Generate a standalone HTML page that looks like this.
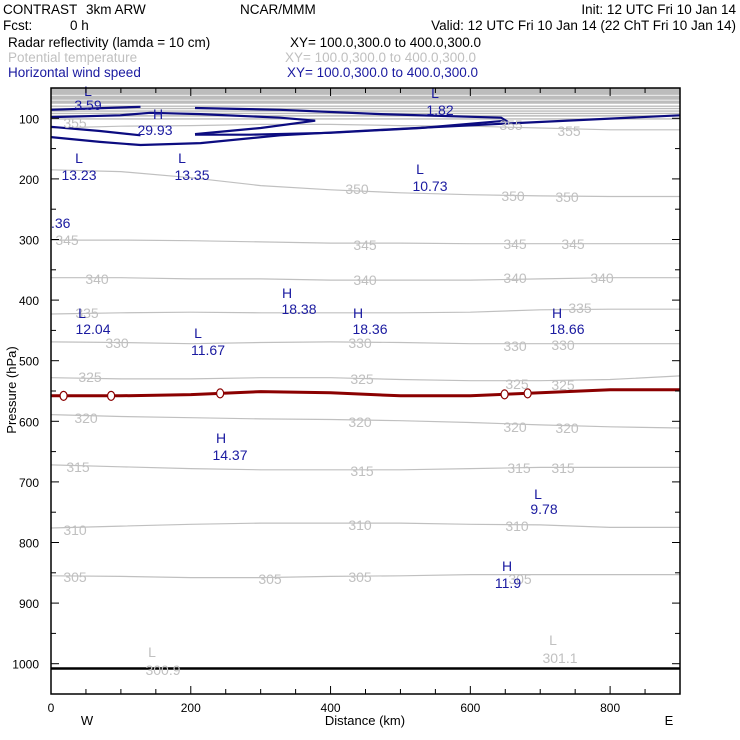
<!DOCTYPE html>
<html><head><meta charset="utf-8"><style>
body{margin:0;background:#fff;}
svg{display:block;font-family:"Liberation Sans",sans-serif;}
</style></head><body>
<svg id="c" width="740" height="740" viewBox="0 0 740 740">
<g font-size="13.5">
<text x="3" y="14">CONTRAST</text>
<text x="86" y="14">3km ARW</text>
<text x="240" y="14">NCAR/MMM</text>
<text x="736" y="14" text-anchor="end">Init: 12 UTC Fri 10 Jan 14</text>
<text x="3" y="30">Fcst:</text>
<text x="70" y="30">0 h</text>
<text x="736" y="30" text-anchor="end">Valid: 12 UTC Fri 10 Jan 14 (22 ChT Fri 10 Jan 14)</text>
<text x="8" y="47">Radar reflectivity (lamda = 10 cm)</text>
<text x="290" y="47">XY= 100.0,300.0 to 400.0,300.0</text>
<text x="8" y="62" fill="#c0c0c0">Potential temperature</text>
<text x="285" y="62" fill="#c0c0c0">XY= 100.0,300.0 to 400.0,300.0</text>
<text x="8" y="77" fill="#1a1aa0">Horizontal wind speed</text>
<text x="287" y="77" fill="#1a1aa0">XY= 100.0,300.0 to 400.0,300.0</text>
</g>
<g id="plot"></g>
</svg>
<script>
const xTicks=[0,200,400,600,800];
const pTicks=[100,200,300,400,500,600,700,800,900,1000];
const thetaKm=[0,100,200,300,400,500,600,700,800,900];
const thetaLevels=[355,350,345,340,335,330,325,320,315,310,305];
const theta355=[116,113,112,110,110,112,113,116,119,119];
const theta350=[185,188,198,211,218,223,226,228,229,229];
const theta345=[301,301,302,304,306,306,307,307,307,307];
const theta340=[363,363,365,365,367,367,367,365,363,363];
const theta335=[423,421,420,421,421,421,420,416,415,415];
const theta330=[469,470,472,470,469,470,472,472,472,472];
const theta325=[528,530,530,528,528,531,533,533,531,525];
const theta320=[589,592,594,596,597,599,602,606,609,611];
const theta315=[672,675,678,680,680,680,678,676,676,676];
const theta310=[776,773,770,768,768,768,770,771,775,775];
const theta305=[855,856,858,858,856,855,853,853,853,853];
const topThetaP=[80,84,88,92,96,101];
const redKm=[0,100,200,300,400,500,600,700,800,900];
const redP=[558,558,556,551,553,558,558,553,548,548];
const windAKm=[0,70,128,214,328,472,644,900];
const windAP=[131,139,144,141,128,119,109,95];
const windB1Km=[0,70,128];const windB1P=[114,121,128];
const windB2Km=[206,300,378,328,214,142,99,0];const windB2P=[126,116,104,99,93,91,95,98];
const windC1Km=[0,128];const windC1P=[86,81];
const windC2Km=[206,328,472,644,651,529,400,285,206];const windC2P=[83,86,93,99,104,116,124,127,127];
const surfaceP=1008;

const L=51,R=680,T=88,B=694;
const X=km=>L+km*(R-L)/900;
const Y=p=>T+(p-50)*(B-T)/1000;
const NS='http://www.w3.org/2000/svg';
const g=document.getElementById('plot');
function mk(tag,attrs,parent){const e=document.createElementNS(NS,tag);for(const k in attrs)e.setAttribute(k,attrs[k]);(parent||g).appendChild(e);return e;}
function path(kms,ps){return kms.map((k,i)=>(i?'L':'M')+X(k).toFixed(1)+','+Y(ps[i]).toFixed(1)).join(' ');}
const defs=mk('defs',{});const cp=mk('clipPath',{id:'pc'},defs);mk('rect',{x:L,y:T,width:R-L,height:B-T},cp);
const inner=mk('g',{'clip-path':'url(#pc)'});
let e=mk('rect',{x:L,y:T,width:R-L,height:Y(76)-T,fill:'#bcbcbc'},inner);


for(const tp of [62,70]){e=mk('line',{x1:L,x2:R,y1:Y(tp),y2:Y(tp),stroke:'#fff','stroke-width':0.8},inner);

}
topThetaP.forEach((tp,i)=>{e=mk('line',{x1:L,x2:R,y1:Y(tp),y2:Y(tp),stroke:'#bcbcbc','stroke-width':1.4},inner);

});
const thetas=[theta355,theta350,theta345,theta340,theta335,theta330,theta325,theta320,theta315,theta310,theta305];
thetas.forEach((arr,i)=>{e=mk('path',{d:path(thetaKm,arr),fill:'none',stroke:'#c0c0c0','stroke-width':1.2},inner);

});
[[windAKm,windAP],[windB1Km,windB1P],[windB2Km,windB2P],[windC1Km,windC1P],[windC2Km,windC2P]].forEach(([k,p],i)=>{
e=mk('path',{d:path(k,p),fill:'none',stroke:'#0c0c80','stroke-width':2.2},inner);

});
e=mk('path',{d:path(redKm,redP),fill:'none',stroke:'#8b0000','stroke-width':3},inner);


[18,86,242,649,682].forEach(k=>{const i=Math.min(8,Math.floor(k/100));const p=redP[i]+(redP[i+1]-redP[i])*(k-i*100)/100;
e=mk('ellipse',{cx:X(k),cy:Y(p),rx:3.5,ry:4.5,fill:'#fff',stroke:'#8b0000','stroke-width':1.2},inner);

});
e=mk('line',{x1:L,x2:R,y1:Y(surfaceP),y2:Y(surfaceP),stroke:'#000','stroke-width':2.5},inner);


const gl=[[75,128,'355'],[357,194,'350'],[513,201,'350'],[567,202,'350'],[67,245,'345'],[365,250,'345'],[515,249,'345'],[573,249,'345'],[97,284,'340'],[365,285,'340'],[515,283,'340'],[602,283,'340'],[87,318,'335'],[580,313,'335'],[117,348,'330'],[360,348,'330'],[515,351,'330'],[563,350,'330'],[90,382,'325'],[362,384,'325'],[517,389,'325'],[563,390,'325'],[86,423,'320'],[360,427,'320'],[515,432,'320'],[567,433,'320'],[78,472,'315'],[362,476,'315'],[519,473,'315'],[563,473,'315'],[75,535,'310'],[360,530,'310'],[517,531,'310'],[75,582,'305'],[270,584,'305'],[360,582,'305'],[520,584,'305'],[511,130,'355'],[569,136,'355'],[152,657,'L'],[163,675,'300.9'],[553,645,'L'],[560,663,'301.1']];
gl.forEach(([x,y,t])=>{e=mk('text',{x,y,'text-anchor':'middle',fill:'#c0c0c0','font-size':14},g);e.textContent=t;

});
const bl=[[88,96,'L'],[88,110,'3.59'],[158,119,'H'],[155,135,'29.93'],[435,98,'L'],[440,115,'1.82'],[79,163,'L'],[79,180,'13.23'],[182,163,'L'],[192,180,'13.35'],[420,174,'L'],[430,191,'10.73'],[63,228,'.36'],[287,298,'H'],[299,314,'18.38'],[358,318,'H'],[370,334,'18.36'],[557,318,'H'],[567,334,'18.66'],[82,318,'L'],[93,334,'12.04'],[198,338,'L'],[208,355,'11.67'],[221,443,'H'],[230,460,'14.37'],[538,499,'L'],[544,514,'9.78'],[507,571,'H'],[508,588,'11.9']];
bl.forEach(([x,y,t])=>{e=mk('text',{x,y,'text-anchor':'middle',fill:'#1a1aa0','font-size':14},g);if(t==='.36')e.setAttribute('text-anchor','start'),e.setAttribute('x',51);e.textContent=t;

});
e=mk('rect',{x:L,y:T,width:R-L,height:B-T,fill:'none',stroke:'#000','stroke-width':1.5});


for(let k=0;k<=900;k+=50){const len=k%200===0?8:5;
mk('line',{x1:X(k),x2:X(k),y1:B,y2:B-len,stroke:'#000'});mk('line',{x1:X(k),x2:X(k),y1:T,y2:T+len,stroke:'#000'});}
for(let p=50;p<=1050;p+=50){const len=p%100===0?8:5;
mk('line',{x1:L,x2:L+len,y1:Y(p),y2:Y(p),stroke:'#000'});mk('line',{x1:R,x2:R-len,y1:Y(p),y2:Y(p),stroke:'#000'});}
xTicks.forEach(k=>{e=mk('text',{x:X(k),y:B+18,'text-anchor':'middle','font-size':12});e.textContent=k;

});
pTicks.forEach(p=>{e=mk('text',{x:39,y:Y(p)+5,'text-anchor':'end','font-size':12});e.textContent=p;

});
e=mk('text',{x:365,y:725,'text-anchor':'middle','font-size':13});e.textContent='Distance (km)';


e=mk('text',{x:87,y:725,'text-anchor':'middle','font-size':13});e.textContent='W';


e=mk('text',{x:669,y:725,'text-anchor':'middle','font-size':13});e.textContent='E';


e=mk('text',{x:0,y:0,'text-anchor':'middle','font-size':13,transform:'translate(16,390) rotate(-90)'});e.textContent='Pressure (hPa)';


</script>
</body></html>
